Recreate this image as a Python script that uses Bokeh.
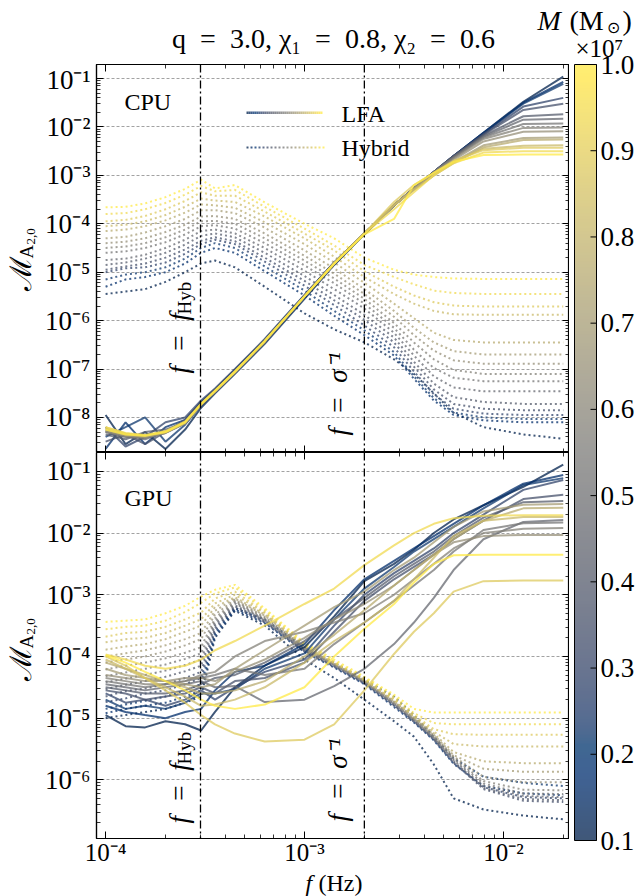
import numpy as np
from bokeh.plotting import figure
from bokeh.layouts import column, row
from bokeh.models import (LogAxis, FixedTicker, CustomJSTickFormatter, Span, Label,
                          ColumnDataSource, BoxAnnotation, Range1d, LinearColorMapper)
from bokeh.core.properties import value
from bokeh.transform import linear_cmap
from bokeh.palettes import Cividis256
from bokeh.embed import file_html
from bokeh.resources import INLINE

FONT = "Liberation Serif"

# ---------------- data ----------------
freq_hz = [1.00e-4, 1.26e-4, 1.58e-4, 2.00e-4, 2.51e-4, 3.02e-4, 3.55e-4, 4.47e-4, 6.31e-4,
           1.00e-3, 1.41e-3, 2.00e-3, 2.82e-3, 3.55e-3, 4.47e-3, 5.62e-3, 7.94e-3, 1.26e-2, 2.00e-2]
mass_1e7 = [0.10, 0.16, 0.22, 0.28, 0.34, 0.40, 0.46, 0.52, 0.58, 0.64, 0.70, 0.76, 0.82, 0.88, 0.94, 1.00]
f_hyb = 3.0e-4
f_sigma_inv = 2.0e-3

# log10 of the mismatch, one row per mass
cpu_lfa_log10 = [
    [-7.95, -8.55, -8.30, -8.65, -8.25, -7.80, -7.50, -7.10, -6.48, -5.55, -4.85, -4.22, -3.62, -3.27, -2.93, -2.60, -2.12, -1.48, -0.96],
    [-8.65, -8.10, -8.55, -8.20, -8.05, -7.68, -7.42, -7.02, -6.40, -5.48, -4.80, -4.20, -3.62, -3.27, -2.93, -2.60, -2.12, -1.50, -1.07],
    [-8.40, -8.20, -8.00, -8.50, -8.15, -7.75, -7.47, -7.06, -6.44, -5.52, -4.83, -4.21, -3.62, -3.27, -2.93, -2.60, -2.13, -1.52, -1.11],
    [-8.20, -8.60, -8.40, -8.10, -8.00, -7.65, -7.40, -7.00, -6.38, -5.47, -4.80, -4.20, -3.62, -3.27, -2.93, -2.60, -2.15, -1.58, -1.40],
    [-8.50, -8.35, -8.55, -8.30, -8.05, -7.70, -7.44, -7.04, -6.42, -5.50, -4.82, -4.20, -3.62, -3.27, -2.93, -2.60, -2.16, -1.65, -1.52],
    [-8.35, -8.45, -8.30, -8.25, -8.10, -7.72, -7.45, -7.05, -6.42, -5.50, -4.82, -4.20, -3.62, -3.27, -2.93, -2.60, -2.18, -1.78, -1.74],
    [-8.30, -8.40, -8.45, -8.30, -8.10, -7.72, -7.45, -7.05, -6.42, -5.50, -4.82, -4.20, -3.62, -3.27, -2.93, -2.62, -2.20, -1.85, -1.83],
    [-8.30, -8.40, -8.42, -8.32, -8.12, -7.74, -7.46, -7.06, -6.43, -5.50, -4.82, -4.20, -3.62, -3.27, -2.93, -2.63, -2.22, -1.94, -1.93],
    [-8.28, -8.38, -8.42, -8.32, -8.12, -7.74, -7.46, -7.06, -6.43, -5.50, -4.82, -4.20, -3.62, -3.27, -2.94, -2.65, -2.25, -2.02, -2.01],
    [-8.28, -8.38, -8.40, -8.30, -8.10, -7.73, -7.46, -7.06, -6.43, -5.50, -4.82, -4.20, -3.62, -3.27, -2.95, -2.68, -2.30, -2.10, -2.09],
    [-8.25, -8.36, -8.40, -8.32, -8.12, -7.74, -7.47, -7.07, -6.44, -5.50, -4.82, -4.20, -3.62, -3.28, -2.97, -2.72, -2.38, -2.23, -2.22],
    [-8.25, -8.35, -8.38, -8.30, -8.10, -7.73, -7.46, -7.06, -6.43, -5.50, -4.82, -4.20, -3.60, -3.30, -3.00, -2.75, -2.42, -2.27, -2.26],
    [-8.22, -8.34, -8.38, -8.30, -8.10, -7.73, -7.46, -7.06, -6.43, -5.50, -4.82, -4.20, -3.62, -3.30, -3.00, -2.72, -2.45, -2.39, -2.38],
    [-8.20, -8.33, -8.37, -8.30, -8.10, -7.73, -7.46, -7.06, -6.43, -5.50, -4.82, -4.20, -3.55, -3.20, -2.95, -2.70, -2.48, -2.43, -2.43],
    [-8.20, -8.32, -8.36, -8.28, -8.08, -7.72, -7.45, -7.05, -6.42, -5.50, -4.82, -4.20, -3.70, -3.35, -3.00, -2.75, -2.53, -2.50, -2.50],
    [-8.25, -8.35, -8.38, -8.30, -8.10, -7.72, -7.45, -7.05, -6.42, -5.50, -4.82, -4.22, -3.90, -3.20, -2.95, -2.72, -2.58, -2.57, -2.57],
]
cpu_hyb_log10 = [
    [-5.45, -5.40, -5.35, -5.20, -5.00, -4.82, -4.76, -4.90, -5.30, -5.85, -6.18, -6.45, -6.80, -7.10, -7.50, -7.90, -8.20, -8.35, -8.44],
    [-5.30, -5.15, -5.10, -5.00, -4.82, -4.60, -4.50, -4.60, -4.98, -5.48, -5.90, -6.30, -6.72, -7.20, -7.65, -7.95, -8.06, -8.10, -8.10],
    [-5.15, -5.05, -5.00, -4.90, -4.72, -4.50, -4.40, -4.50, -4.88, -5.38, -5.80, -6.20, -6.65, -7.15, -7.60, -7.90, -8.00, -8.03, -8.03],
    [-5.00, -4.92, -4.90, -4.80, -4.62, -4.42, -4.33, -4.42, -4.78, -5.28, -5.68, -6.10, -6.55, -7.05, -7.52, -7.82, -7.92, -7.95, -7.95],
    [-4.95, -4.88, -4.82, -4.70, -4.53, -4.35, -4.28, -4.36, -4.70, -5.18, -5.58, -5.98, -6.45, -6.95, -7.42, -7.72, -7.82, -7.85, -7.85],
    [-4.85, -4.80, -4.72, -4.60, -4.43, -4.25, -4.20, -4.28, -4.60, -5.08, -5.47, -5.88, -6.35, -6.85, -7.30, -7.58, -7.68, -7.72, -7.72],
    [-4.75, -4.72, -4.64, -4.50, -4.33, -4.15, -4.12, -4.20, -4.50, -4.97, -5.35, -5.75, -6.25, -6.72, -7.15, -7.38, -7.46, -7.46, -7.46],
    [-4.60, -4.57, -4.50, -4.38, -4.22, -4.05, -4.03, -4.10, -4.40, -4.86, -5.23, -5.65, -6.15, -6.60, -6.98, -7.18, -7.25, -7.25, -7.25],
    [-4.50, -4.47, -4.40, -4.28, -4.12, -3.95, -3.94, -4.00, -4.30, -4.76, -5.13, -5.55, -6.05, -6.45, -6.80, -7.02, -7.10, -7.10, -7.10],
    [-4.40, -4.37, -4.30, -4.17, -4.02, -3.85, -3.84, -3.90, -4.20, -4.66, -5.03, -5.45, -5.92, -6.30, -6.62, -6.82, -6.89, -6.89, -6.89],
    [-4.30, -4.27, -4.18, -4.05, -3.90, -3.72, -3.72, -3.78, -4.08, -4.55, -4.92, -5.35, -5.80, -6.15, -6.45, -6.63, -6.70, -6.70, -6.70],
    [-4.15, -4.12, -4.05, -3.93, -3.77, -3.60, -3.62, -3.67, -3.97, -4.42, -4.80, -5.22, -5.65, -5.95, -6.25, -6.40, -6.45, -6.45, -6.45],
    [-4.05, -4.02, -3.95, -3.82, -3.65, -3.48, -3.52, -3.55, -3.85, -4.30, -4.68, -5.10, -5.45, -5.65, -5.80, -5.87, -5.88, -5.88, -5.88],
    [-3.95, -3.92, -3.84, -3.70, -3.53, -3.35, -3.42, -3.42, -3.75, -4.20, -4.55, -4.98, -5.30, -5.48, -5.62, -5.69, -5.71, -5.71, -5.71],
    [-3.80, -3.78, -3.70, -3.57, -3.40, -3.22, -3.33, -3.30, -3.65, -4.10, -4.45, -4.85, -5.10, -5.25, -5.38, -5.43, -5.45, -5.45, -5.45],
    [-3.66, -3.65, -3.58, -3.45, -3.28, -3.09, -3.27, -3.20, -3.56, -4.00, -4.30, -4.70, -4.95, -5.05, -5.10, -5.13, -5.14, -5.14, -5.14],
]
gpu_lfa_log10 = [
    [-4.95, -5.13, -5.15, -5.05, -5.10, -5.20, -4.90, -4.50, -4.15, -3.85, -3.35, -2.78, -2.50, -2.27, -2.00, -1.78, -1.55, -1.25, -0.89],
    [-4.80, -4.90, -4.95, -5.00, -4.90, -4.85, -4.55, -4.25, -4.15, -3.80, -3.25, -2.75, -2.45, -2.25, -2.05, -1.85, -1.55, -1.20, -1.06],
    [-4.70, -4.85, -4.80, -4.85, -4.75, -4.60, -4.60, -4.53, -4.20, -3.95, -3.40, -2.90, -2.55, -2.30, -2.10, -1.90, -1.60, -1.22, -1.11],
    [-4.60, -4.75, -4.70, -4.80, -4.70, -4.55, -4.70, -4.50, -4.25, -4.05, -3.50, -3.00, -2.65, -2.45, -2.25, -2.00, -1.70, -1.30, -1.14],
    [-4.55, -4.60, -4.70, -4.65, -4.60, -4.50, -4.60, -4.40, -4.35, -4.10, -3.60, -3.10, -2.75, -2.55, -2.35, -2.10, -1.80, -1.45, -1.38],
    [-4.50, -4.55, -4.60, -4.60, -4.55, -4.45, -4.35, -4.30, -4.10, -3.75, -3.40, -3.05, -2.70, -2.50, -2.30, -2.05, -1.75, -1.50, -1.48],
    [-4.45, -4.50, -4.55, -4.50, -4.45, -4.40, -4.50, -4.48, -4.74, -4.70, -4.48, -4.20, -3.80, -3.45, -3.05, -2.60, -2.10, -1.82, -1.79],
    [-4.40, -4.45, -4.50, -4.45, -4.40, -4.35, -4.30, -4.20, -4.30, -4.20, -3.80, -3.45, -3.10, -2.85, -2.60, -2.30, -1.95, -1.84, -1.83],
    [-4.35, -4.40, -4.45, -4.45, -4.40, -4.30, -4.25, -4.00, -3.75, -3.60, -3.45, -3.30, -3.00, -2.75, -2.50, -2.25, -2.00, -1.93, -1.92],
    [-4.30, -4.35, -4.40, -4.40, -4.35, -4.35, -4.40, -4.25, -4.05, -3.70, -3.40, -3.15, -2.85, -2.60, -2.35, -2.15, -2.05, -2.03, -2.03],
    [-4.20, -4.30, -4.35, -4.40, -4.45, -4.50, -4.45, -4.20, -3.90, -3.50, -3.20, -2.95, -2.60, -2.40, -2.15, -1.90, -1.65, -1.54, -1.53],
    [-4.10, -4.20, -4.30, -4.40, -4.50, -4.60, -4.60, -4.55, -4.40, -4.00, -3.65, -3.25, -2.85, -2.60, -2.35, -2.10, -1.80, -1.60, -1.59],
    [-4.05, -4.20, -4.35, -4.50, -4.65, -4.80, -4.78, -4.70, -4.50, -4.10, -3.75, -3.45, -3.10, -2.75, -2.40, -2.05, -1.80, -1.74, -1.74],
    [-4.00, -4.15, -4.35, -4.55, -4.75, -4.95, -5.10, -5.25, -5.38, -5.35, -5.10, -4.55, -3.96, -3.60, -3.30, -2.95, -2.78, -2.77, -2.77],
    [-3.97, -4.05, -4.15, -4.20, -4.15, -4.05, -3.90, -3.75, -3.50, -3.15, -2.90, -2.52, -2.20, -2.00, -1.85, -1.76, -1.72, -1.71, -1.71],
    [-3.98, -4.10, -4.25, -4.40, -4.55, -4.70, -4.80, -4.85, -4.78, -4.50, -4.00, -3.55, -3.15, -2.80, -2.50, -2.36, -2.35, -2.35, -2.35],
]
gpu_hyb_log10 = [
    [-5.00, -4.95, -4.90, -4.85, -4.75, -4.65, -3.70, -3.26, -3.50, -4.05, -4.35, -4.70, -5.05, -5.30, -5.75, -6.30, -6.48, -6.58, -6.64],
    [-4.92, -4.85, -4.80, -4.75, -4.65, -4.55, -3.66, -3.24, -3.46, -3.93, -4.18, -4.45, -4.82, -5.07, -5.36, -5.74, -6.10, -6.22, -6.25],
    [-4.85, -4.78, -4.72, -4.65, -4.55, -4.45, -3.62, -3.22, -3.40, -3.85, -4.10, -4.38, -4.65, -4.95, -5.30, -5.65, -5.95, -6.05, -6.10],
    [-4.74, -4.68, -4.60, -4.55, -4.45, -4.35, -3.58, -3.21, -3.45, -3.92, -4.17, -4.44, -4.80, -5.06, -5.35, -5.73, -6.12, -6.28, -6.30],
    [-4.65, -4.56, -4.52, -4.45, -4.35, -4.25, -3.54, -3.19, -3.44, -3.91, -4.16, -4.43, -4.79, -5.05, -5.34, -5.72, -6.15, -6.34, -6.36],
    [-4.53, -4.46, -4.40, -4.33, -4.24, -4.15, -3.50, -3.17, -3.42, -3.90, -4.15, -4.42, -4.78, -5.04, -5.33, -5.70, -6.13, -6.31, -6.33],
    [-4.42, -4.36, -4.30, -4.23, -4.14, -4.05, -3.46, -3.14, -3.41, -3.89, -4.14, -4.41, -4.77, -5.03, -5.32, -5.68, -6.10, -6.26, -6.28],
    [-4.32, -4.26, -4.20, -4.13, -4.04, -3.95, -3.42, -3.12, -3.40, -3.88, -4.13, -4.41, -4.76, -5.02, -5.31, -5.66, -6.06, -6.22, -6.23],
    [-4.21, -4.15, -4.10, -4.03, -3.94, -3.85, -3.38, -3.10, -3.38, -3.87, -4.13, -4.40, -4.75, -5.01, -5.30, -5.64, -6.02, -6.16, -6.17],
    [-4.10, -4.05, -4.00, -3.92, -3.82, -3.72, -3.32, -3.08, -3.36, -3.86, -4.12, -4.40, -4.74, -5.00, -5.28, -5.62, -5.95, -6.04, -6.04],
    [-4.00, -3.95, -3.90, -3.82, -3.72, -3.62, -3.26, -3.06, -3.34, -3.85, -4.12, -4.39, -4.73, -4.99, -5.27, -5.60, -5.82, -5.87, -5.87],
    [-3.89, -3.84, -3.80, -3.72, -3.60, -3.50, -3.20, -3.04, -3.32, -3.84, -4.11, -4.38, -4.72, -4.98, -5.25, -5.55, -5.70, -5.73, -5.73],
    [-3.77, -3.72, -3.70, -3.62, -3.50, -3.40, -3.14, -3.00, -3.30, -3.83, -4.10, -4.38, -4.70, -4.97, -5.22, -5.42, -5.46, -5.46, -5.46],
    [-3.68, -3.62, -3.60, -3.52, -3.40, -3.29, -3.06, -2.95, -3.28, -3.82, -4.10, -4.37, -4.68, -4.95, -5.18, -5.26, -5.27, -5.27, -5.27],
    [-3.56, -3.52, -3.50, -3.42, -3.28, -3.13, -2.98, -2.88, -3.25, -3.80, -4.08, -4.35, -4.65, -4.92, -5.08, -5.10, -5.10, -5.10, -5.10],
    [-3.44, -3.42, -3.40, -3.30, -3.18, -3.03, -2.92, -2.84, -3.22, -3.78, -4.05, -4.33, -4.62, -4.85, -4.91, -4.91, -4.91, -4.91, -4.91],
]

x_major = [1e-4, 1e-3, 1e-2]
cpu_y_major = [1e-8, 1e-7, 1e-6, 1e-5, 1e-4, 1e-3, 1e-2, 1e-1]
gpu_y_major = [1e-6, 1e-5, 1e-4, 1e-3, 1e-2, 1e-1]
cbar_ticks = [0.1, 0.2, 0.3, 0.4, 0.5, 0.6, 0.7, 0.8, 0.9, 1.0]
cbar_tick_labels = ["0.1", "0.2", "0.3", "0.4", "0.5", "0.6", "0.7", "0.8", "0.9", "1.0"]
mass_low, mass_high = 0.1, 1.0


def minor_of(exps):
    return [m * 10.0 ** e for e in exps for m in range(2, 10)]


x_minor = minor_of(range(-5, -1))
cpu_y_minor = minor_of(range(-10, 0))
gpu_y_minor = minor_of(range(-8, 0))

sup_fmt = CustomJSTickFormatter(code="""
const m = {"-": "\u207b", "0": "\u2070", "1": "\u00b9", "2": "\u00b2", "3": "\u00b3",
           "4": "\u2074", "5": "\u2075", "6": "\u2076", "7": "\u2077", "8": "\u2078", "9": "\u2079"};
const e = Math.round(Math.log10(tick));
return "10" + String(e).split("").map(c => m[c]).join("");
""")
blank_fmt = CustomJSTickFormatter(code="return '';")

x_rng = Range1d(9.0e-5, 2.15e-2)

# page geometry (pixels)
W = 641
H = 896
RIGHT_X0 = 569                # right edge of the panels; colour-bar column starts here
HEAD_H = 64
STRIP_W = 38
P1_H = 388
P2_BOTTOM = 28
P2_H = 388 + P2_BOTTOM
FOOT_H = 28
FT = HEAD_H                   # absolute frame top of the CPU panel
FB1 = HEAD_H + 388            # absolute frame bottom of the CPU panel
FB2 = FB1 + 388               # absolute frame bottom of the GPU panel
LEFT_H = HEAD_H + P1_H + P2_H + FOOT_H


def style_axis(ax, labels, size=27, standoff=6):
    ax.axis_line_color = "black"
    ax.axis_line_width = 1.2
    ax.major_tick_in = 7
    ax.major_tick_out = 0
    ax.minor_tick_in = 4
    ax.minor_tick_out = 0
    ax.major_tick_line_color = "black"
    ax.minor_tick_line_color = "black"
    ax.major_tick_line_width = 1
    ax.minor_tick_line_width = 0.8
    if labels:
        ax.formatter = sup_fmt
        ax.major_label_text_font = FONT
        ax.major_label_text_font_size = f"{size}px"
        ax.major_label_text_color = "black"
        ax.major_label_standoff = standoff
    else:
        ax.formatter = blank_fmt
        ax.major_label_standoff = 0
        ax.major_label_text_font_size = "0px"


def make_panel(height, bottom, y_lo, y_hi, y_major, y_minor, x_labels):
    p = figure(width=RIGHT_X0 - STRIP_W, height=height, x_axis_type="log", y_axis_type="log",
               x_range=x_rng, y_range=Range1d(y_lo, y_hi),
               output_backend="svg", toolbar_location=None,
               min_border_left=96 - STRIP_W, min_border_right=0,
               min_border_top=0, min_border_bottom=bottom)
    p.outline_line_color = "black"
    p.outline_line_width = 1.2
    p.background_fill_color = "white"
    p.border_fill_color = "white"
    xt = FixedTicker(ticks=x_major, minor_ticks=x_minor)
    yt = FixedTicker(ticks=y_major, minor_ticks=y_minor)
    p.xaxis.ticker = xt
    p.yaxis.ticker = yt
    p.xgrid.visible = False
    p.ygrid.ticker = yt
    p.ygrid.grid_line_color = "#8a8a8a"
    p.ygrid.grid_line_dash = "3 2"
    p.ygrid.grid_line_width = 0.8
    style_axis(p.xaxis[0], x_labels, size=25, standoff=0)
    style_axis(p.yaxis[0], True)
    ax_r = LogAxis(ticker=yt)
    style_axis(ax_r, False)
    p.add_layout(ax_r, "right")
    ax_t = LogAxis(ticker=xt)
    style_axis(ax_t, False)
    p.add_layout(ax_t, "above")
    return p


def make_strip(width, height, x_range=None, y_range=None):
    s = figure(width=width, height=height,
               x_range=x_range or Range1d(0, 1), y_range=y_range or Range1d(0, 1),
               x_axis_location=None, y_axis_location=None, output_backend="svg",
               toolbar_location=None, min_border_left=0, min_border_right=0,
               min_border_top=0, min_border_bottom=0)
    s.outline_line_color = None
    s.grid.visible = False
    s.background_fill_color = "white"
    s.border_fill_color = "white"
    return s


def draw_curves(p, lfa, hyb):
    cmap = linear_cmap("mass", Cividis256, mass_low, mass_high)
    src_h = ColumnDataSource(dict(xs=[freq_hz] * len(mass_1e7),
                                  ys=[list(10.0 ** np.array(r)) for r in hyb], mass=mass_1e7))
    src_l = ColumnDataSource(dict(xs=[freq_hz] * len(mass_1e7),
                                  ys=[list(10.0 ** np.array(r)) for r in lfa], mass=mass_1e7))
    p.multi_line("xs", "ys", source=src_h, line_color=cmap, line_alpha=0.75,
                 line_width=2, line_dash="2 3")
    p.multi_line("xs", "ys", source=src_l, line_color=cmap, line_alpha=0.75, line_width=2)
    for loc in (f_hyb, f_sigma_inv):
        p.add_layout(Span(location=loc, dimension="height", line_color="black",
                          line_width=1.3, line_dash="8 3 2 3"))


def txt(p, x0, ybot, X, Y, text, size, style="normal", align="left", angle=0.0, font=FONT):
    """Place text centred vertically at absolute page position (X, Y);
    x0 = absolute frame left, ybot = absolute frame bottom of the host figure."""
    p.add_layout(Label(x=X - x0, y=ybot - Y, x_units="screen", y_units="screen", text=text,
                       text_font=font, text_font_size=f"{size}px", text_font_style=style,
                       text_align=align, text_baseline="middle", angle=angle,
                       text_color="black"))


p1 = make_panel(P1_H, 0, 1.89e-9, 0.1945, cpu_y_major, cpu_y_minor, False)
p2 = make_panel(P2_H, P2_BOTTOM, 1.12e-7, 0.202, gpu_y_major, gpu_y_minor, True)
draw_curves(p1, cpu_lfa_log10, cpu_hyb_log10)
draw_curves(p2, gpu_lfa_log10, gpu_hyb_log10)

head = make_strip(RIGHT_X0, HEAD_H)
strip = make_strip(STRIP_W, P1_H + P2_H)
foot = make_strip(RIGHT_X0, FOOT_H)

# ---- colour-bar column: a narrow figure whose y axis is the mass scale ----
per_px = (mass_high - mass_low) / (FB2 - FT)
cb_y_range = Range1d(mass_low - (H - FB2) * per_px, mass_high + FT * per_px)
cbf = make_strip(W - RIGHT_X0, H, x_range=Range1d(RIGHT_X0, W), y_range=cb_y_range)
cb_mapper = LinearColorMapper(palette=Cividis256, low=mass_low, high=mass_high)
cb_image = np.linspace(mass_low, mass_high, 512).reshape(-1, 1)
cbf.image(image=[cb_image], x=574, y=mass_low, dw=22, dh=mass_high - mass_low,
          color_mapper=cb_mapper, global_alpha=0.75)
cbf.quad(left=[574], right=[596], bottom=[mass_low], top=[mass_high],
         fill_color=None, line_color="black", line_width=1)
cbf.segment(x0=[590] * len(cbar_ticks), x1=[596] * len(cbar_ticks), y0=cbar_ticks,
            y1=cbar_ticks, line_color="black", line_width=1)
cbf.text(x=[600] * len(cbar_ticks), y=cbar_ticks, text=cbar_tick_labels,
         text_font=value(FONT), text_font_size="27px", text_baseline="middle",
         text_align="left", text_color="black")

PI2 = np.pi / 2

# header: title and colour-bar caption
txt(head, 0, HEAD_H, 333, 38,
    "q\u2002=\u20023.0, \u03c7\u2081\u2002=\u20020.8, \u03c7\u2082\u2002=\u20020.6",
    28, align="center")
txt(head, 0, HEAD_H, 537, 20, "M", 28, style="italic")
txt(cbf, RIGHT_X0, H, 569, 20, "(M", 28)
txt(cbf, RIGHT_X0, H, 606, 27, "\u2299", 16)
txt(cbf, RIGHT_X0, H, 622, 20, ")", 28)
txt(cbf, RIGHT_X0, H, 575, 48, "\u00d710\u2077", 25)

# y labels (left strip)
SB = HEAD_H + P1_H + P2_H
for y0 in (290, 680):
    txt(strip, 0, SB, 20, y0, "\u2133", 30, angle=PI2, font="DejaVu Serif")
    txt(strip, 0, SB, 26, y0 - 32, "A", 19, angle=PI2)
    txt(strip, 0, SB, 30, y0 - 46, "2,0", 13, angle=PI2)

# x label (footer)
txt(foot, 0, LEFT_H, 305, 882, "f", 24, style="italic")
txt(foot, 0, LEFT_H, 318, 882, "(Hz)", 24)

# panel tags
txt(p1, 96, FB1, 124, 101, "CPU", 24)
txt(p2, 96, FB2, 124, 499, "GPU", 24)

# vertical line annotations
for p, fb, yh, ys in ((p1, FB1, 373, 435), (p2, FB2, 825, 823)):
    txt(p, 96, fb, 178, yh, "f\u2002=\u2002f", 27, style="italic", angle=PI2)
    txt(p, 96, fb, 184, yh - 59, "Hyb", 19, angle=PI2)
    txt(p, 96, fb, 337, ys, "f\u2002=\u2002\u03c3\u207b\u00b9", 27, style="italic", angle=PI2)

# legend (top panel)
n_seg = 38
for i in range(n_seg):
    c = Cividis256[int(round(i * 255 / (n_seg - 1)))]
    x0 = 246 + 2 * i - 96
    p1.add_layout(BoxAnnotation(left=x0, right=x0 + 2, bottom=FB1 - 113.5, top=FB1 - 111,
                                left_units="screen", right_units="screen",
                                bottom_units="screen", top_units="screen",
                                fill_color=c, fill_alpha=0.75, line_color=None))
n_dot = 20
for i in range(n_dot):
    c = Cividis256[int(round(i * 255 / (n_dot - 1)))]
    x0 = 246 + 4 * i - 96
    p1.add_layout(BoxAnnotation(left=x0, right=x0 + 2, bottom=FB1 - 148, top=FB1 - 146,
                                left_units="screen", right_units="screen",
                                bottom_units="screen", top_units="screen",
                                fill_color=c, fill_alpha=0.75, line_color=None))
txt(p1, 96, FB1, 341, 113, "LFA", 24)
txt(p1, 96, FB1, 341, 147, "Hybrid", 24)

left = column(head, row(strip, column(p1, p2)), foot)
layout = row(left, cbf)
open("out.html", "w").write(file_html(layout, INLINE))
